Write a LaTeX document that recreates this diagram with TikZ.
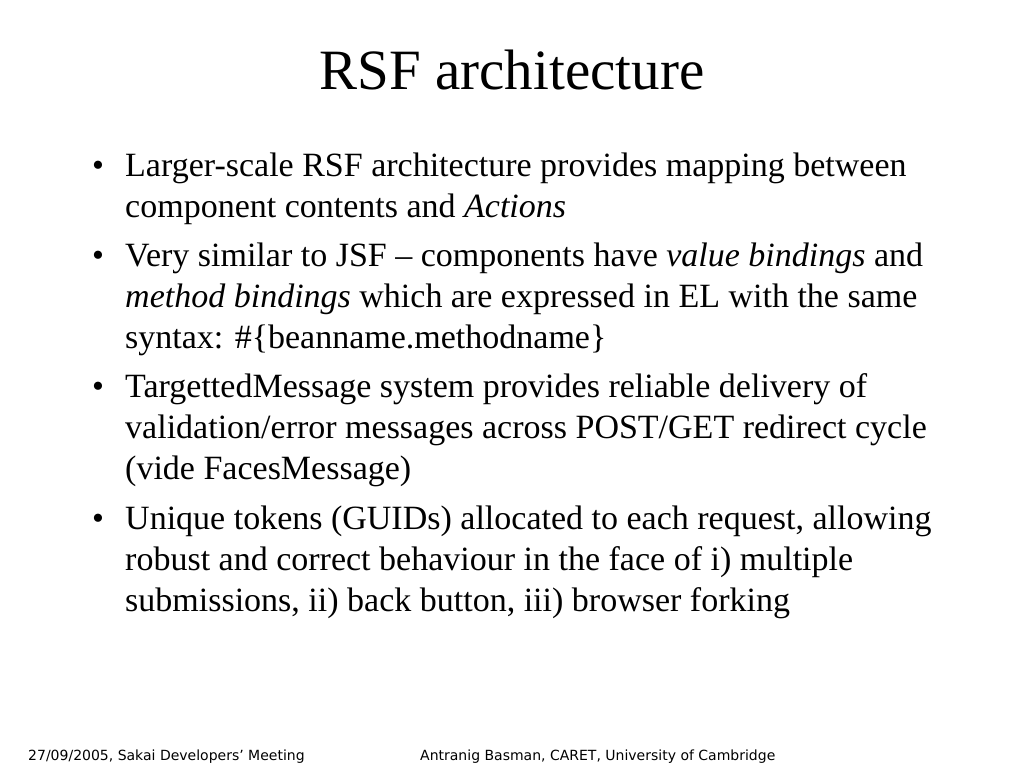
\documentclass[tikz,border=0pt]{standalone}
\usepackage{fontspec}
\setmainfont{Liberation Serif}
\newfontfamily\footfont{DejaVu Sans}
\usetikzlibrary{positioning}
\tikzset{
  bullettext/.style={anchor=base west, inner sep=0pt, align=left, font=\fontsize{34}{41}\selectfont},
  bulletmark/.style={anchor=base west, inner sep=0pt, font=\fontsize{34}{41}\selectfont},
  foot/.style={anchor=base west, inner sep=0pt, font=\footfont\fontsize{14}{16}\selectfont}
}
\begin{document}
\begin{tikzpicture}[x=1pt,y=-1pt]
  \useasboundingbox (0,0) rectangle (1024,768);
  \node (title) at (512,89) [anchor=base, inner sep=0pt, font=\fontsize{57}{66}\selectfont] {RSF architecture};

  % bullet nodes sit on the baseline of their last line
  \node (m1) at (92,176) [bulletmark] {\textbullet};
  \node (b1) at (125,217) [bullettext] {Larger-scale RSF architecture provides mapping between\\component contents and \textit{Actions}};
  \node (m2) at (92,266) [bulletmark] {\textbullet};
  \node (b2) at (125,348) [bullettext] {Very similar to JSF -- components have \textit{value bindings} and\\\textit{method bindings} which are expressed in EL with the same\\syntax: \#\{beanname.methodname\}};
  \node (m3) at (92,397) [bulletmark] {\textbullet};
  \node (b3) at (125,479) [bullettext] {TargettedMessage system provides reliable delivery of\\validation/error messages across POST/GET redirect cycle\\(vide FacesMessage)};
  \node (m4) at (92,529) [bulletmark] {\textbullet};
  \node (b4) at (125,611) [bullettext] {Unique tokens (GUIDs) allocated to each request, allowing\\robust and correct behaviour in the face of i) multiple\\submissions, ii) back button, iii) browser forking};

  \node (f1) at (28,760) [foot] {27/09/2005, Sakai Developers’ Meeting};
  \node (f2) at (420,760) [foot] {Antranig Basman, CARET, University of Cambridge};
\end{tikzpicture}
\end{document}
